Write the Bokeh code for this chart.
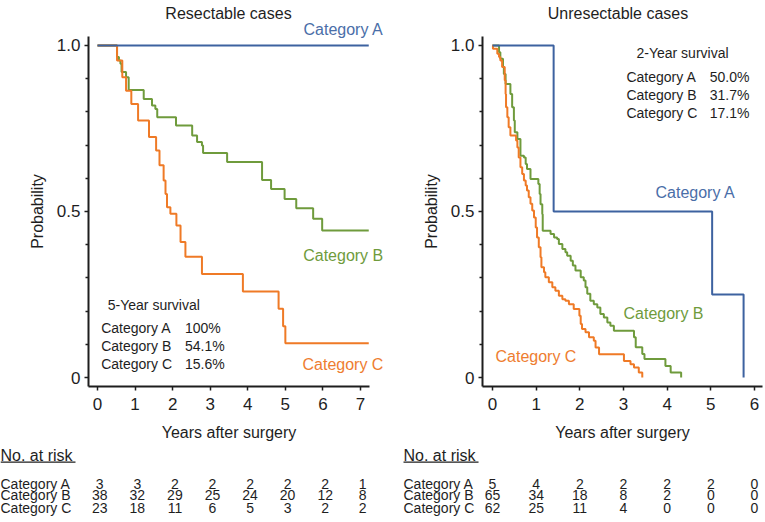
from bokeh.plotting import figure
from bokeh.models import Range1d, LinearAxis, FixedTicker
from bokeh.layouts import row
from bokeh.core.properties import value
from bokeh.embed import file_html
from bokeh.resources import INLINE

# ---------------- data ----------------
categories = ["Category A", "Category B", "Category C"]

# Resectable cases (Kaplan-Meier steps: time, survival after time)
res_A_t = [0.0, 7.22]
res_A_s = [1.0, 1.0]
res_B_t = [0.0, 0.52, 0.57, 0.61, 0.64, 0.76, 0.83, 1.23, 1.45, 1.54, 1.59, 2.09, 2.52, 2.65,
           2.78, 2.81, 3.45, 4.38, 4.62, 4.98, 5.29, 5.74, 5.98, 7.22]
res_B_s = [1.0, 0.965, 0.955, 0.945, 0.920, 0.904, 0.866, 0.839, 0.819, 0.809, 0.784, 0.759, 0.729,
           0.709, 0.699, 0.676, 0.649, 0.595, 0.568, 0.538, 0.510, 0.478, 0.443, 0.443]
res_C_t = [0.0, 0.52, 0.66, 0.76, 0.90, 1.08, 1.37, 1.56, 1.65, 1.76, 1.81, 1.85, 1.94, 2.10, 2.21,
           2.34, 2.78, 3.87, 4.82, 4.94, 5.00, 7.22]
res_C_s = [1.0, 0.955, 0.904, 0.864, 0.824, 0.774, 0.724, 0.684, 0.639, 0.593, 0.553, 0.513, 0.493,
           0.458, 0.408, 0.364, 0.312, 0.259, 0.207, 0.154, 0.103, 0.103]

# Unresectable cases
unres_A_t = [0.0, 1.40, 5.03, 5.75]
unres_A_s = [1.0, 0.5, 0.25, 0.0]
unres_B_t = [0.0, 0.15, 0.18, 0.24, 0.26, 0.30, 0.41, 0.45, 0.49, 0.51, 0.57, 0.64, 0.72, 0.76, 0.79,
             0.87, 1.05, 1.08, 1.10, 1.14, 1.15, 1.33, 1.41, 1.48, 1.52, 1.60, 1.67, 1.71, 1.79, 1.84,
             1.90, 2.02, 2.09, 2.13, 2.17, 2.24, 2.32, 2.40, 2.47, 2.55, 2.63, 2.70, 2.78, 3.24, 3.28,
             3.43, 3.48, 3.96, 4.08, 4.32]
unres_B_s = [1.0, 0.980, 0.960, 0.935, 0.914, 0.884, 0.854, 0.814, 0.774, 0.739, 0.718, 0.668, 0.663,
             0.643, 0.628, 0.598, 0.583, 0.553, 0.522, 0.492, 0.442, 0.432, 0.422, 0.417, 0.402, 0.387,
             0.377, 0.367, 0.352, 0.337, 0.322, 0.302, 0.292, 0.272, 0.252, 0.231, 0.221, 0.211, 0.191,
             0.181, 0.166, 0.156, 0.141, 0.121, 0.091, 0.071, 0.056, 0.035, 0.015, 0.0]
unres_C_t = [0.0, 0.01, 0.11, 0.15, 0.18, 0.22, 0.28, 0.30, 0.31, 0.34, 0.37, 0.41, 0.54, 0.57, 0.60,
             0.64, 0.68, 0.72, 0.76, 0.79, 0.83, 0.87, 0.91, 0.95, 0.99, 1.02, 1.06, 1.10, 1.12, 1.18,
             1.21, 1.29, 1.37, 1.44, 1.52, 1.60, 1.67, 1.75, 1.86, 1.99, 2.02, 2.05, 2.13, 2.21, 2.32,
             2.36, 2.44, 3.01, 3.16, 3.24, 3.35, 3.43]
unres_C_s = [1.0, 0.990, 0.975, 0.965, 0.955, 0.935, 0.895, 0.854, 0.814, 0.784, 0.754, 0.729, 0.714,
             0.693, 0.663, 0.633, 0.613, 0.593, 0.578, 0.563, 0.543, 0.523, 0.503, 0.482, 0.452, 0.422,
             0.392, 0.362, 0.332, 0.317, 0.302, 0.287, 0.272, 0.261, 0.246, 0.236, 0.231, 0.221, 0.206,
             0.186, 0.161, 0.146, 0.136, 0.121, 0.111, 0.090, 0.070, 0.050, 0.040, 0.030, 0.015, 0.0]

# Numbers at risk
res_years = [0, 1, 2, 3, 4, 5, 6, 7]
res_risk_A = [3, 3, 2, 2, 2, 2, 2, 1]
res_risk_B = [38, 32, 29, 25, 24, 20, 12, 8]
res_risk_C = [23, 18, 11, 6, 5, 3, 2, 2]
unres_years = [0, 1, 2, 3, 4, 5, 6]
unres_risk_A = [5, 4, 2, 2, 2, 2, 0]
unres_risk_B = [65, 34, 18, 8, 2, 0, 0]
unres_risk_C = [62, 25, 11, 4, 0, 0, 0]

# Survival summaries
res_surv_title = "5-Year survival"
res_surv = ["100%", "54.1%", "15.6%"]
unres_surv_title = "2-Year survival"
unres_surv = ["50.0%", "31.7%", "17.1%"]

y_ticks = [0, 0.5, 1.0]
y_tick_labels = ["0", "0.5", "1.0"]
y_minor = [0.1, 0.2, 0.3, 0.4, 0.6, 0.7, 0.8, 0.9]

# ---------------- style ----------------
FONT = "Liberation Sans"
BLUE = "#3d62a0"
GREEN = "#6f9b3c"
ORANGE = "#ef7a26"
BLUE_T = "#4a6ea8"
GREEN_T = "#6f9b3c"
ORANGE_T = "#ee7d30"
INK = "#1e1e1e"
H = 520
Y0, Y1 = -0.4307, 1.1355
ROW_Y = [-0.3202, -0.3554, -0.3925]
HEAD_Y = -0.2349
UL_Y = -0.2551
TITLE_Y = 1.0964


def base_fig(width, x0, x1, years, xb0, xb1):
    p = figure(width=width, height=H, x_range=Range1d(x0, x1), y_range=Range1d(Y0, Y1),
               output_backend="svg", toolbar_location=None,
               x_axis_type=None, y_axis_type=None,
               min_border_left=0, min_border_right=0, min_border_top=0, min_border_bottom=0)
    p.outline_line_color = None
    p.background_fill_color = "white"
    p.border_fill_color = "white"

    xa = LinearAxis(ticker=FixedTicker(ticks=years), fixed_location=-0.027, bounds=(xb0, xb1))
    xa.axis_label = "Years after surgery"
    ya = LinearAxis(ticker=FixedTicker(ticks=y_ticks, minor_ticks=y_minor),
                    fixed_location=xb0, bounds=(-0.027, 1.027))
    ya.axis_label = "Probability"
    ya.major_label_overrides = {t: s for t, s in zip(y_ticks, y_tick_labels)}
    for ax in (xa, ya):
        ax.axis_line_width = 2
        ax.axis_line_color = INK
        ax.major_tick_line_color = INK
        ax.major_tick_line_width = 1.5
        ax.minor_tick_line_color = INK
        ax.minor_tick_line_width = 1.5
        ax.major_tick_in = 0
        ax.minor_tick_in = 0
        ax.major_label_text_font = FONT
        ax.major_label_text_font_size = "17px"
        ax.major_label_text_color = INK
        ax.axis_label_text_font = FONT
        ax.axis_label_text_font_size = "16px"
        ax.axis_label_text_font_style = "normal"
        ax.axis_label_text_color = INK
    xa.major_tick_out = 4
    xa.minor_tick_line_color = None
    xa.major_label_standoff = 8
    xa.axis_label_standoff = 10
    ya.major_tick_out = 4
    ya.minor_tick_out = 3
    ya.major_label_standoff = 4
    ya.axis_label_standoff = 8
    p.add_layout(xa, "below")
    p.add_layout(ya, "left")
    return p


def txt(p, x, y, t, color=INK, size="14px", align="left"):
    p.text(x=x, y=y, text=t, text_font=value(FONT), text_font_size=size, text_color=color,
           text_align=align, text_baseline="middle")


# ---------------- left: resectable ----------------
p1 = base_fig(392, -2.582, 7.852, res_years, -0.2396, 7.24)
p1.step(res_B_t, res_B_s, mode="after", line_color=GREEN, line_width=2)
p1.step(res_C_t, res_C_s, mode="after", line_color=ORANGE, line_width=2)
p1.step(res_A_t, res_A_s, mode="after", line_color=BLUE, line_width=2)
txt(p1, [3.487], [TITLE_Y], ["Resectable cases"], size="16px", align="center")
txt(p1, [5.483], [1.048], [categories[0]], color=BLUE_T, size="16px")
txt(p1, [5.475], [0.3675], [categories[1]], color=GREEN_T, size="16px")
txt(p1, [5.456], [0.0392], [categories[2]], color=ORANGE_T, size="16px")
txt(p1, [0.274], [0.2169], [res_surv_title])
inset_y = [0.1485, 0.0934, 0.0413]
txt(p1, [0.0985] * 3, inset_y, categories)
txt(p1, [2.329] * 3, inset_y, res_surv)
# at-risk table
txt(p1, [-2.582], [HEAD_Y], ["No. at risk"], size="16px")
p1.segment(x0=[-2.582], y0=[UL_Y], x1=[-0.586], y1=[UL_Y], line_color=INK, line_width=1.2)
txt(p1, [-2.582] * 3, ROW_Y, categories)
for yv, risk in zip(ROW_Y, [res_risk_A, res_risk_B, res_risk_C]):
    txt(p1, [yr + 0.06 for yr in res_years], [yv] * len(risk), [str(r) for r in risk], align="center")

# ---------------- right: unresectable ----------------
p2 = base_fig(371, -2.29, 6.206, unres_years, -0.229, 6.18)
p2.step(unres_B_t, unres_B_s, mode="after", line_color=GREEN, line_width=2)
p2.step(unres_C_t, unres_C_s, mode="after", line_color=ORANGE, line_width=2)
p2.step(unres_A_t, unres_A_s, mode="after", line_color=BLUE, line_width=2)
txt(p2, [2.874], [TITLE_Y], ["Unresectable cases"], size="16px", align="center")
txt(p2, [3.733], [0.5581], [categories[0]], color=BLUE_T, size="16px")
txt(p2, [3.0], [0.1937], [categories[1]], color=GREEN_T, size="16px")
txt(p2, [0.0687], [0.0633], [categories[2]], color=ORANGE_T, size="16px")
txt(p2, [3.297], [0.9768], [unres_surv_title])
inset_y2 = [0.9045, 0.8494, 0.7961]
txt(p2, [3.068] * 3, inset_y2, categories)
txt(p2, [4.976] * 3, inset_y2, unres_surv)
txt(p2, [-2.038], [HEAD_Y], ["No. at risk"], size="16px")
p2.segment(x0=[-2.038], y0=[UL_Y], x1=[-0.32], y1=[UL_Y], line_color=INK, line_width=1.2)
txt(p2, [-2.038] * 3, ROW_Y, categories)
for yv, risk in zip(ROW_Y, [unres_risk_A, unres_risk_B, unres_risk_C]):
    txt(p2, [yr for yr in unres_years], [yv] * len(risk), [str(r) for r in risk], align="center")

layout = row(p1, p2)
open("out.html", "w").write(file_html(layout, INLINE))
